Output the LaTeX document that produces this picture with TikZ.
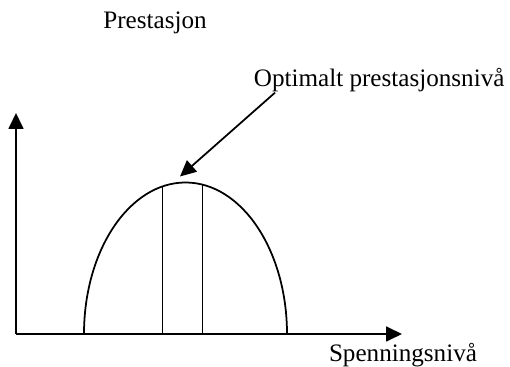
\documentclass[tikz,border=0pt]{standalone}
\usepackage{fontspec}
\setmainfont{Liberation Serif}
\usetikzlibrary{arrows.meta}

\begin{document}
\begin{tikzpicture}[line width=1pt,
    every node/.style={font=\fontsize{14.3}{17}\selectfont, inner sep=0pt},
    tip/.style={-{Triangle[length=0.32cm, width=0.3cm]}}]
  \useasboundingbox (-0.32,-0.66) rectangle (9.88,6.68);

  % Axes
  \coordinate (origin) at (0,0);
  \coordinate (ytop) at (0,4.42);
  \coordinate (xend) at (7.72,0);
  \draw[tip] (origin) -- (ytop);
  \draw[tip] (origin) -- (xend);

  % Axis labels
  \node (perf) at (2.78,6.22) {Prestasjon};
  \node (stress) at (7.74,-0.42) {Spenningsniv\r{a}};

  % The arch and the optimal band under its top
  \draw (1.36,0) arc[start angle=180, end angle=0, x radius=2.03, y radius=3.03];
  \draw (2.93,0) -- (2.93,2.95);
  \draw (3.73,0) -- (3.73,2.99);

  % Label pointing at the top
  \node[anchor=west] (opt) at (4.74,5.08) {Optimalt prestasjonsniv\r{a}};
  \coordinate (peak) at (3.28,3.15);
  \draw[tip] ([xshift=0.44cm]opt.south west) -- (peak);
\end{tikzpicture}
\end{document}
